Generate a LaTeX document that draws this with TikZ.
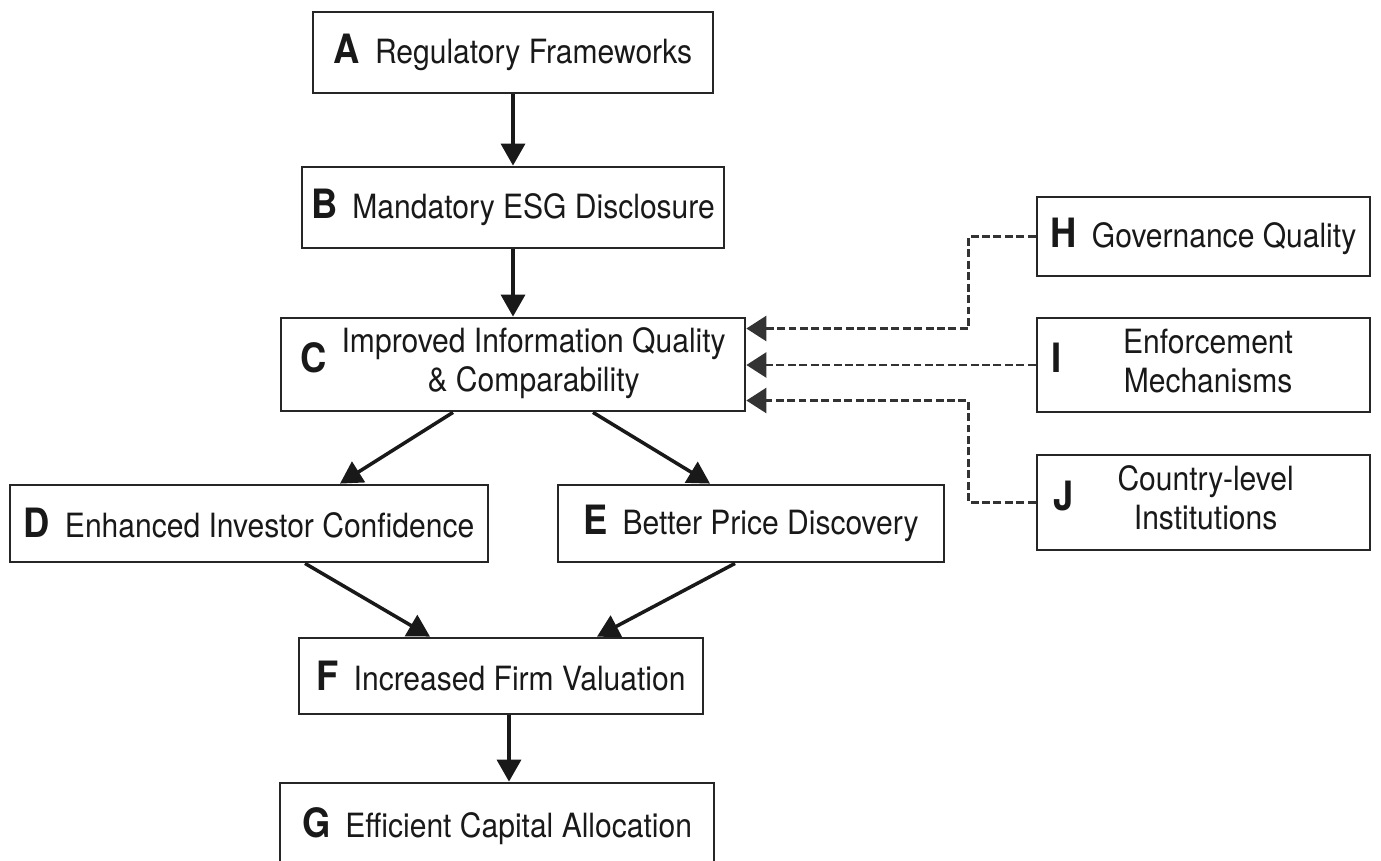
\documentclass[tikz,border=0pt]{standalone}
\usepackage{fontspec}
\setmainfont[FakeStretch=0.9]{TeX Gyre Heros}
\usetikzlibrary{arrows.meta,calc}

\newcommand{\lbl}[1]{{\fontsize{23}{23}\selectfont\bfseries #1}\hspace{0.3cm}}

\tikzset{
  box/.style={draw=black!85, line width=1.6pt, fill=white, text=black!90, inner sep=0pt, font=\fontsize{19}{22}\selectfont},
  flow/.style={-{Triangle[length=0.44cm,width=0.48cm]}, line width=2pt, draw=black!90},
  dasharrow/.style={-{Triangle[length=0.4cm,width=0.5cm]}, line width=1.5pt, dash pattern=on 4.5pt off 2pt, draw=black!80},
}

\begin{document}
\begin{tikzpicture}[x=0.02cm,y=-0.02cm]
\clip (0,0) rectangle (1381,861);
\fill [white] (0,0) rectangle (1381,861);
\node [box, minimum width=8cm, minimum height=1.62cm] (vA) at (513,52.5) {\lbl{A}Regulatory Frameworks};
\node [box, minimum width=8.44cm, minimum height=1.62cm] (vB) at (513,207.5) {\lbl{B}Mandatory ESG Disclosure};
\node [box, minimum width=9.28cm, minimum height=1.86cm] (vC) at (513,364.5) {\lbl{C}\begin{tabular}{@{}c@{}}Improved Information Quality\\ \& Comparability\end{tabular}};
\node [box, minimum width=9.56cm, minimum height=1.54cm] (vD) at (249,523.5) {\lbl{D}Enhanced Investor Confidence};
\node [box, minimum width=7.72cm, minimum height=1.54cm] (vE) at (751,523.5) {\lbl{E}Better Price Discovery};
\node [box, minimum width=8.08cm, minimum height=1.52cm] (vF) at (501,676) {\lbl{F}Increased Firm Valuation};
\node [box, minimum width=8.68cm, minimum height=1.72cm] (vG) at (497,826) {\lbl{G}Efficient Capital Allocation};
\node [box, minimum width=6.66cm, minimum height=1.58cm] (vH) at (1203.5,236.5) {\lbl{H}Governance Quality};
\node [box, minimum width=6.66cm, minimum height=1.88cm] (vI) at (1203.5,365) {\lbl{I}\kern0.94cm\begin{tabular}{@{}c@{}}Enforcement\\ Mechanisms\end{tabular}\kern1.26cm};
\node [box, minimum width=6.66cm, minimum height=1.9cm] (vJ) at (1203.5,502.5) {\lbl{J}\kern0.58cm\begin{tabular}{@{}c@{}}Country-level\\ Institutions\end{tabular}\kern1.2cm};
\coordinate (fg) at ($(vF.south)+(8,0)$);
\draw [flow] (vA) -- (vB);
\draw [flow] (vB) -- (vC);
\draw [flow] ($(vC.south)+(-60,0)$) -- ($(vD.north)+(91,0)$);
\draw [flow] ($(vC.south)+(80,0)$) -- ($(vE.north)+(-41,0)$);
\draw [flow] ($(vD.south)+(56,0)$) -- ($(vF.north)+(-71,0)$);
\draw [flow] ($(vE.south)+(-16,0)$) -- ($(vF.north)+(96,0)$);
\draw [flow] (fg) -- (fg |- vG.north);
\draw [dasharrow] (vH.west) -- ++(-67,0) |- ($(vC.east)+(0,-36)$);
\draw [dasharrow] (vI.west) -- (vI.west -| vC.east);
\draw [dasharrow] (vJ.west) -- ++(-67,0) |- ($(vC.east)+(0,36)$);
\end{tikzpicture}
\end{document}
